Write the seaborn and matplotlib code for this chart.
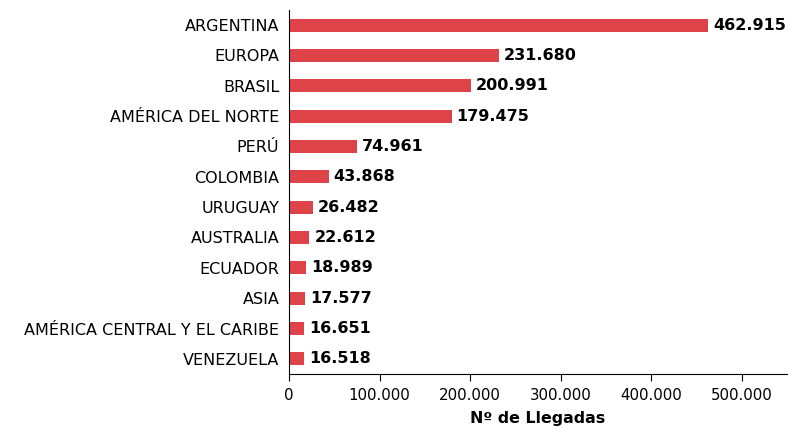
import matplotlib
matplotlib.use("Agg")
import matplotlib.pyplot as plt
import seaborn as sns
import pandas as pd
from matplotlib.ticker import FuncFormatter, FixedLocator

categories = ["ARGENTINA", "EUROPA", "BRASIL", "AMÉRICA DEL NORTE", "PERÚ", "COLOMBIA",
              "URUGUAY", "AUSTRALIA", "ECUADOR", "ASIA", "AMÉRICA CENTRAL Y EL CARIBE", "VENEZUELA"]
values = [462915, 231680, 200991, 179475, 74961, 43868, 26482, 22612, 18989, 17577, 16651, 16518]
x_ticks = [0, 100000, 200000, 300000, 400000, 500000]

sns.set_style("white")
plt.rcParams['font.family'] = ['DejaVu Sans']
plt.rcParams['text.color'] = 'black'
plt.rcParams['axes.labelcolor'] = 'black'
plt.rcParams['xtick.color'] = 'black'
plt.rcParams['ytick.color'] = 'black'

df = pd.DataFrame({"region": categories, "llegadas": values})

fig = plt.figure(figsize=(8.01, 4.29), dpi=100)
ax = fig.add_axes([0.3608, 0.1282, 0.9825 - 0.3608, 0.9767 - 0.1282])

sns.barplot(data=df, y="region", x="llegadas", orient="h", color="#DD4349",
            saturation=1, width=0.43, linewidth=0, ax=ax)

def fmt(v):
    return f"{int(v):,}".replace(",", ".")

for i, v in enumerate(values):
    ax.text(v + 5500, i, fmt(v), va="center", ha="left", fontsize=11.5,
            fontweight="bold", color="black")

ax.set_xlim(0, 550000)
ax.set_ylim(len(categories) - 0.5, -0.5)
ax.xaxis.set_major_locator(FixedLocator(x_ticks))
ax.xaxis.set_major_formatter(FuncFormatter(lambda v, p: fmt(v)))
ax.set_xlabel("Nº de Llegadas", fontsize=11.4, fontweight="bold", labelpad=6, color="black")
ax.set_ylabel("")

ax.tick_params(axis="y", which="major", length=0, labelsize=11.5, pad=7, labelcolor="black")
ax.set_yticks([i - 0.5 for i in range(len(categories) + 1)], minor=True)
ax.tick_params(axis="y", which="minor", length=5, width=0.8, color="black", direction="out")
ax.tick_params(axis="x", which="major", length=5, width=0.8, color="black",
               direction="out", labelsize=10.8, pad=5, bottom=True, labelcolor="black")

for s in ["top", "right"]:
    ax.spines[s].set_visible(False)
for s in ["left", "bottom"]:
    ax.spines[s].set_color("black")
    ax.spines[s].set_linewidth(0.8)

fig.savefig("out.png", dpi=100)
